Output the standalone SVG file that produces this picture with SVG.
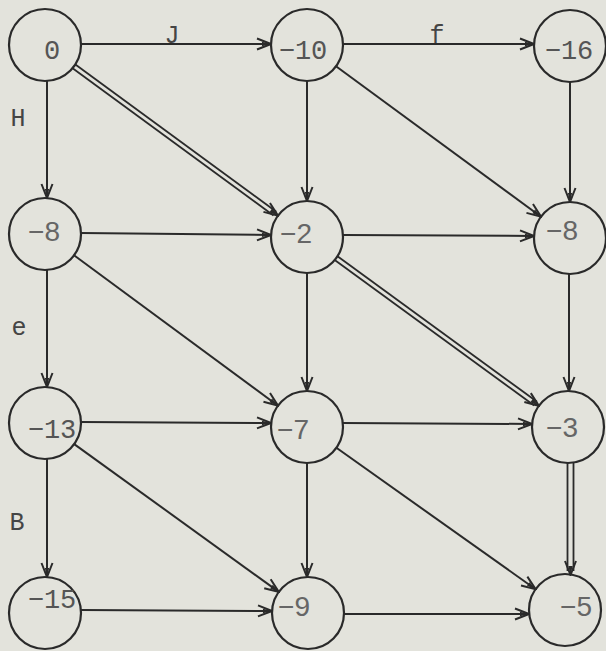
<svg xmlns="http://www.w3.org/2000/svg" width="606" height="651" viewBox="0 0 606 651">
  <style>
    .node circle { fill: none; stroke: #2a2a2a; stroke-width: 2.2; }
    .mono { font-family: "Liberation Mono", "Courier New", monospace; font-size: 27px; fill: #555555; text-anchor: middle; }
    .sans { font-family: "Liberation Sans", Arial, sans-serif; font-size: 28px; fill: #666666; text-anchor: middle; }
    .lbl { font-family: "Liberation Mono", "Courier New", monospace; font-size: 25px; fill: #454545; text-anchor: middle; }
    .edge { fill: none; stroke: #2a2a2a; stroke-width: 2; marker-end: url(#ah); }
    .rail { fill: none; stroke: #2a2a2a; stroke-width: 1.8; }
    .tip { fill: none; stroke: none; marker-end: url(#ah); }
  </style>
  <defs>
    <marker id="ah" markerUnits="userSpaceOnUse" viewBox="0 0 16 14" markerWidth="16" markerHeight="14" refX="15" refY="7" orient="auto">
      <path d="M1,1.5 L15,7 L1,12.5" fill="none" stroke="#2a2a2a" stroke-width="2"/>
      <path d="M6,4.8 L15,7 L6,9.2 z" fill="#2a2a2a"/>
    </marker>
  </defs>

  <rect width="606" height="651" fill="#e3e3dc"/>

  <!-- connectors -->
  <g id="connectors">
    <path class="edge" d="M81,44 L271,44"/>
    <path class="edge" d="M343,44 L534,44"/>
    <path class="edge" d="M47,81 L47,198"/>
    <path class="edge" d="M307,81 L307,201"/>
    <path class="edge" d="M570,82 L570,202"/>
    <path class="edge" d="M81,233 L271,235"/>
    <path class="edge" d="M343,235 L534,236"/>
    <path class="edge" d="M47,270 L47,387"/>
    <path class="edge" d="M307,273 L307,391"/>
    <path class="edge" d="M569,274 L569,391"/>
    <path class="edge" d="M81,422 L271,423"/>
    <path class="edge" d="M343,423 L532,424"/>
    <path class="edge" d="M47,459 L47,577"/>
    <path class="edge" d="M307,463 L307,577"/>
    <path class="edge" d="M81,610 L272,611"/>
    <path class="edge" d="M344,614 L529,614"/>
    <path class="edge" d="M336,66.3 L541,216.7"/>
    <path class="edge" d="M74,255.3 L278,405.7"/>
    <path class="edge" d="M74.2,444.1 L278.8,591.9"/>
    <path class="edge" d="M336.4,447.8 L535.6,589.2"/>

    <!-- double-ruled edges -->
    <g id="double-0-2">
      <path class="rail" d="M72.6,68.2 L273.5,215.5"/>
      <path class="rail" d="M75.4,64.4 L276.3,211.7"/>
      <path class="tip" d="M74,66.3 L278,215.7"/>
    </g>
    <g id="double-2-3">
      <path class="rail" d="M334.7,260.1 L534.2,405.5"/>
      <path class="rail" d="M337.5,256.3 L537.0,401.7"/>
      <path class="tip" d="M336.1,258.2 L538.9,405.8"/>
    </g>
    <g id="double-3-5">
      <path class="rail" d="M567.5,463 L567.5,571"/>
      <path class="rail" d="M573.5,463 L573.5,571"/>
      <path class="tip" d="M570.5,463 L570.5,575"/>
    </g>
  </g>

  <!-- edge labels -->
  <g id="labels">
    <text class="lbl" x="172" y="43">J</text>
    <text class="lbl" x="437" y="43">f</text>
    <text class="lbl" x="18" y="126">H</text>
    <text class="lbl" x="19" y="335">e</text>
    <text class="lbl" x="17" y="530">B</text>
  </g>

  <!-- nodes -->
  <g id="n0" class="node"><circle cx="45" cy="45" r="36"/><text class="mono" x="52" y="59">0</text></g>
  <g id="n-10" class="node"><circle cx="307" cy="45" r="36"/><text class="mono" x="303" y="59">−10</text></g>
  <g id="n-16" class="node"><circle cx="570" cy="46" r="36"/><text class="mono" x="569" y="59">−16</text></g>
  <g id="n-8a" class="node"><circle cx="45" cy="234" r="36"/><text class="sans" x="44" y="241">−8</text></g>
  <g id="n-2" class="node"><circle cx="307" cy="237" r="36"/><text class="sans" x="296" y="243">−2</text></g>
  <g id="n-8b" class="node"><circle cx="570" cy="238" r="36"/><text class="sans" x="562" y="240">−8</text></g>
  <g id="n-13" class="node"><circle cx="45" cy="423" r="36"/><text class="mono" x="52" y="438">−13</text></g>
  <g id="n-7" class="node"><circle cx="307" cy="427" r="36"/><text class="sans" x="293" y="439">−7</text></g>
  <g id="n-3" class="node"><circle cx="568" cy="427" r="36"/><text class="sans" x="562" y="437">−3</text></g>
  <g id="n-15" class="node"><circle cx="45" cy="613" r="36"/><text class="mono" x="52" y="608">−15</text></g>
  <g id="n-9" class="node"><circle cx="308" cy="613" r="36"/><text class="sans" x="294" y="616">−9</text></g>
  <g id="n-5" class="node"><circle cx="565" cy="610" r="36"/><text class="sans" x="576" y="616">−5</text></g>
</svg>
